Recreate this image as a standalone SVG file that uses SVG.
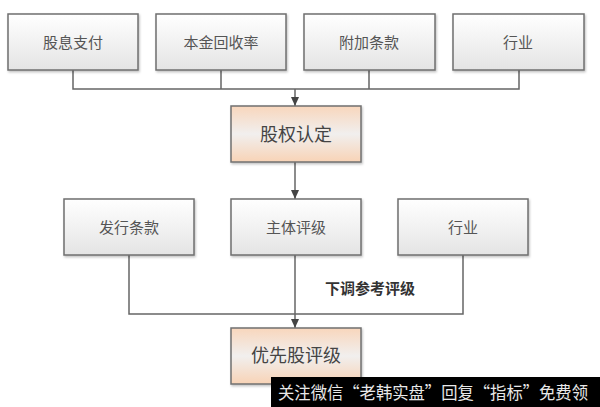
<svg xmlns="http://www.w3.org/2000/svg" width="600" height="407" viewBox="0 0 600 407">
<defs>
<linearGradient id="g" x1="0" y1="0" x2="0" y2="1">
<stop offset="0" stop-color="#ffffff"/>
<stop offset="1" stop-color="#e4e4e4"/>
</linearGradient>
<linearGradient id="o" x1="0" y1="0" x2="0" y2="1">
<stop offset="0" stop-color="#f8d6bc"/>
<stop offset="0.5" stop-color="#f1efee"/>
<stop offset="1" stop-color="#f8d3b6"/>
</linearGradient>
<marker id="ah" markerWidth="10" markerHeight="10" refX="9" refY="5" orient="auto" markerUnits="userSpaceOnUse">
<path d="M0,1 L9,5 L0,9 Z" fill="#444"/>
</marker>
<filter id="sh" x="-5%" y="-5%" width="115%" height="120%">
<feDropShadow dx="1" dy="1.5" stdDeviation="1" flood-color="#000" flood-opacity="0.25"/>
</filter>
</defs>
<style>
.box{fill:url(#g);stroke:#6f6f6f;stroke-width:1.5;filter:url(#sh)}
.key{fill:url(#o);stroke:#707070;stroke-width:1.5;filter:url(#sh)}
.t{font-family:"Noto Sans CJK SC","Noto Sans",sans-serif;font-size:15px;fill:#555;text-anchor:middle}
.tk{font-family:"Noto Sans CJK SC","Noto Sans",sans-serif;font-size:18px;fill:#444;text-anchor:middle}
.ln{fill:none;stroke:#666;stroke-width:1.5}
</style>
<rect width="600" height="407" fill="#ffffff"/>
<g id="connectors">
<path class="ln" d="M73,70 V89 H519 V70 M221,70 V89 M369,70 V89"/>
<path class="ln" d="M295,89 V106" marker-end="url(#ah)"/>
<path class="ln" d="M295,162 V199" marker-end="url(#ah)"/>
<path class="ln" d="M129,255 V314 H463 V255"/>
<path class="ln" d="M295,255 V328" marker-end="url(#ah)"/>
<text x="370" y="294" style="font-family:'Noto Sans CJK SC',sans-serif;font-size:15px;font-weight:bold;fill:#333;text-anchor:middle">下调参考评级</text>
</g>
<g id="n1"><rect class="box" x="8" y="14" width="130" height="56"/><text class="t" x="73" y="47.5">股息支付</text></g>
<g id="n2"><rect class="box" x="156" y="14" width="130" height="56"/><text class="t" x="221" y="47.5">本金回收率</text></g>
<g id="n3"><rect class="box" x="304" y="14" width="131" height="56"/><text class="t" x="369" y="47.5">附加条款</text></g>
<g id="n4"><rect class="box" x="453" y="14" width="131" height="56"/><text class="t" x="518" y="47.5">行业</text></g>
<g id="n5"><rect class="key" x="231" y="106" width="130" height="56"/><text class="tk" x="296" y="140.5">股权认定</text></g>
<g id="n6"><rect class="box" x="64" y="199" width="130" height="56"/><text class="t" x="129" y="232.5">发行条款</text></g>
<g id="n7"><rect class="box" x="231" y="199" width="130" height="56"/><text class="t" x="296" y="232.5">主体评级</text></g>
<g id="n8"><rect class="box" x="398" y="199" width="130" height="56"/><text class="t" x="463" y="232.5">行业</text></g>
<g id="n9"><rect class="key" x="231" y="328" width="130" height="56"/><text class="tk" x="296" y="362">优先股评级</text></g>
<g id="watermark">
<rect x="271" y="377" width="329" height="30" fill="#000"/>
<text x="278" y="399" textLength="310" lengthAdjust="spacingAndGlyphs" style="font-family:'Noto Sans CJK SC',sans-serif;font-size:17px;fill:#e8e8e8">关注微信“老韩实盘”回复“指标”免费领</text>
</g>
</svg>
